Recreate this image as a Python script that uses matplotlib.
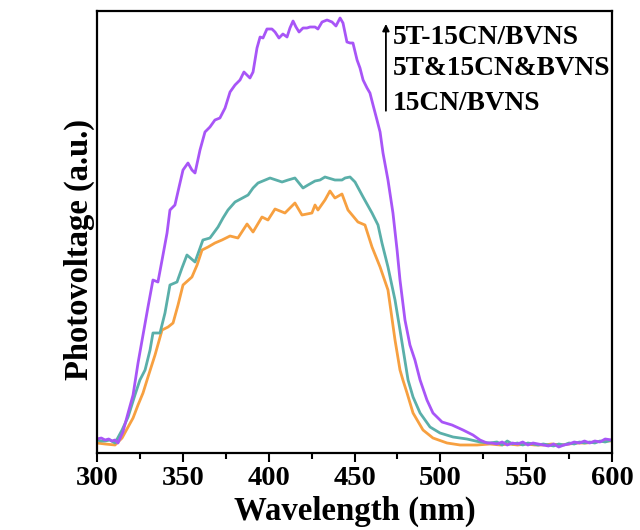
import matplotlib
matplotlib.use("Agg")
import matplotlib.pyplot as plt
from matplotlib.ticker import MultipleLocator

# ---- data ----
wl_purple = [300.0, 302.5, 304.7, 306.8, 308.7, 310.5, 312.2, 315.1, 318.1, 321.0, 323.9, 326.8, 329.7,
             332.6, 335.5, 337.9, 340.8, 342.5, 345.4, 347.8, 350.1, 353.0, 355.3, 357.1, 360.0,
             362.9, 365.8, 368.7, 371.6, 374.6, 377.5, 380.4, 383.3, 385.6, 389.1, 390.9, 393.2,
             395.0, 396.7, 399.0, 401.9, 403.7, 406.0, 408.3, 410.7, 412.4, 414.2, 415.9, 417.7,
             420.0, 422.3, 424.1, 427.0, 428.7, 431.1, 434.0, 436.9, 439.2, 441.6, 443.3, 445.6,
             447.4, 449.1, 451.5, 453.2, 455.0, 457.3, 459.0, 460.8, 463.1, 464.9, 466.6, 469.5,
             472.4, 474.8, 476.5, 479.4, 482.3, 485.2, 488.2, 492.2, 495.7, 501.0, 506.8, 513.2,
             519.0, 523.1, 527.2, 530, 533, 536, 539, 542, 545, 548, 551, 554, 557, 560, 563, 566,
             569, 572, 575, 578, 581, 584, 587, 590, 593, 596, 600]
v_purple = [14, 15, 13, 14, 12, 13, 10, 21, 40, 58, 90, 118, 146,
            173, 171, 193, 220, 243, 248, 266, 283, 290, 283, 280, 303,
            321, 326, 333, 335, 345, 361, 368, 373, 381, 375, 381, 405,
            416, 415, 424, 424, 421, 415, 419, 416, 425, 432, 426, 421,
            425, 425, 426, 426, 424, 431, 433, 431, 427, 435, 430, 411,
            410, 410, 393, 385, 373, 365, 360, 348, 333, 321, 300, 273,
            240, 203, 173, 133, 108, 93, 73, 53, 40, 31, 28, 23,
            18, 13, 10, 10, 9, 11, 8, 10, 9, 11, 8, 10, 9, 8, 7, 9,
            6, 8, 9, 11, 10, 12, 10, 12, 11, 14, 13]

wl_teal = [300.0, 302.5, 304.7, 307.5, 310.5, 314.6, 318.1, 322.1, 325.0, 328.0, 330.9, 332.6, 336.7,
           339.6, 342.5, 346.6, 349.5, 352.4, 357.1, 361.7, 365.8, 370.5, 373.4, 376.3, 380.4,
           388.0, 390.9, 393.8, 400.8, 404.3, 407.8, 411.3, 415.3, 420.0, 422.9, 427.0, 429.9,
           432.8, 438.6, 442.7, 444.5, 447.4, 450.3, 455.0, 460.2, 463.7, 466.0, 469.5, 473.6,
           476.5, 481.2, 484.1, 488.2, 494.0, 499.8, 507.4, 515.5, 523.1, 528.9, 533, 536, 539,
           542, 545, 548, 551, 554, 557, 560, 563, 566, 569, 572, 575, 578, 581, 584, 587, 590,
           593, 596, 600]
v_teal = [13, 12, 12, 13, 10, 23, 36, 58, 73, 83, 103, 120, 120,
          140, 168, 171, 185, 198, 191, 213, 215, 226, 235, 243, 251,
          258, 265, 270, 275, 273, 271, 273, 275, 265, 268, 272, 273,
          276, 273, 273, 275, 276, 271, 256, 240, 228, 210, 186, 153,
          123, 73, 56, 40, 26, 20, 16, 14, 11, 10, 11, 8, 12,
          9, 10, 8, 10, 9, 8, 9, 8, 7, 9, 8, 10, 9, 11, 10, 11, 10,
          12, 11, 13]

wl_orange = [300.0, 304.7, 310.5, 314.6, 318.1, 321.0, 323.9, 326.8, 329.7, 333.8, 337.9, 341.4, 344.3,
             347.2, 350.1, 355.3, 358.3, 361.2, 364.7, 368.7, 372.8, 377.5, 382.1, 387.4, 390.9,
             396.1, 399.6, 403.7, 409.5, 415.3, 419.4, 425.2, 427.0, 428.7, 432.8, 435.7, 438.6,
             442.7, 446.2, 452.0, 456.1, 460.2, 464.9, 469.5, 473.6, 476.5, 478.2, 480.6, 484.1,
             489.9, 495.7, 503.9, 511.5, 521.4, 528.9, 535, 540, 545, 550, 555, 560, 565, 570,
             575, 580, 585, 590, 595, 600]
v_orange = [10, 9, 8, 15, 26, 35, 48, 60, 76, 98, 123, 126, 130,
            148, 168, 176, 188, 203, 206, 210, 213, 217, 215, 229, 221,
            236, 233, 244, 240, 250, 238, 240, 248, 243, 253, 262, 255,
            259, 243, 231, 228, 206, 186, 163, 113, 83, 73, 60, 40,
            23, 15, 10, 8, 8, 9, 8, 9, 8, 9, 8, 8, 9, 8,
            9, 10, 10, 11, 12, 12]

labels = ["5T-15CN/BVNS", "5T&15CN&BVNS", "15CN/BVNS"]
x_ticks = [300, 350, 400, 450, 500, 550, 600]

# ---- figure ----
plt.rcParams['font.family'] = ['Liberation Serif', 'DejaVu Serif']
plt.rcParams['font.weight'] = 'bold'

fig = plt.figure(figsize=(6.4, 5.3), dpi=100)
ax = fig.add_axes([97 / 640, 1 - 453 / 530, 515 / 640, 442 / 530])

lw = 2.0
ax.plot(wl_orange, v_orange, color='#F7A040', lw=lw)
ax.plot(wl_teal, v_teal, color='#5AAFA9', lw=lw)
ax.plot(wl_purple, v_purple, color='#A855F7', lw=lw)

ax.set_xlim(300, 600)
ax.set_ylim(0, 442)
ax.set_xticks(x_ticks)
ax.set_xticklabels([str(t) for t in x_ticks])
ax.xaxis.set_minor_locator(MultipleLocator(25))
ax.set_yticks([])
ax.tick_params(axis='x', which='major', direction='out', length=6.5, width=1.5,
               labelsize=20.5, pad=3)
ax.tick_params(axis='x', which='minor', direction='out', length=4, width=1.5)
for lab in ax.get_xticklabels():
    lab.set_fontweight('bold')
for s in ax.spines.values():
    s.set_linewidth(1.6)

ax.set_xlabel("Wavelength (nm)", fontsize=23.7, fontweight='bold', labelpad=3)
ax.set_ylabel("Photovoltage (a.u.)", fontsize=23.5, fontweight='bold')
ax.yaxis.set_label_coords(-0.004, 0.46)

# legend-like annotation with arrow
ax.annotate("", xy=(0.561, 0.977), xytext=(0.561, 0.768), xycoords='axes fraction',
            arrowprops=dict(arrowstyle='-|>', color='black', lw=1.3, mutation_scale=10))
for lab, yf in zip(labels, [0.925, 0.855, 0.776]):
    ax.text(0.574, yf, lab, transform=ax.transAxes, fontsize=19.7, fontweight='bold',
            ha='left', va='baseline')

fig.savefig("out.png", dpi=100)
